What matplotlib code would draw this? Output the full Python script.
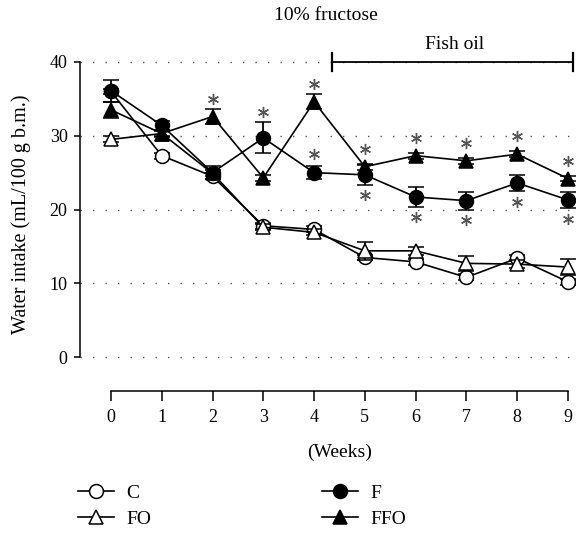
import matplotlib
matplotlib.use("Agg")
import matplotlib.pyplot as plt
import matplotlib.transforms as mtransforms
from matplotlib.lines import Line2D

plt.rcParams['font.family'] = ['Liberation Serif', 'DejaVu Serif']

weeks = [0, 1, 2, 3, 4, 5, 6, 7, 8, 9]
C = [36.0, 27.3, 24.5, 17.8, 17.3, 13.5, 12.9, 10.8, 13.4, 10.2]
C_err = [0.4, 0.4, 0.4, 0.4, 0.4, 0.4, 0.4, 0.4, 0.4, 0.4]
FO = [29.5, 30.3, 24.9, 17.6, 16.9, 14.4, 14.4, 12.7, 12.6, 12.2]
FO_err = [0.4, 0.4, 0.4, 0.4, 0.4, 1.2, 0.5, 1.0, 0.5, 1.1]
F = [36.1, 31.4, 25.0, 29.7, 25.0, 24.7, 21.7, 21.2, 23.6, 21.3]
F_err = [1.5, 0.6, 0.9, 2.1, 0.9, 1.4, 1.4, 1.2, 1.1, 1.1]
FFO = [33.5, 30.3, 32.6, 24.3, 34.6, 25.8, 27.3, 26.6, 27.5, 24.2]
FFO_err = [1.1, 0.5, 1.0, 0.4, 1.0, 0.4, 0.4, 0.4, 0.4, 0.4]

sig_above_FFO = [2, 4, 5, 6, 7, 8, 9]
sig_above_F = [3, 4]
sig_below_F = [5, 6, 7, 8, 9]

yticks = [0, 10, 20, 30, 40]

W, H = 576, 533
fig = plt.figure(figsize=(W / 100, H / 100), dpi=100)
ax = fig.add_axes([0.1389, 0.2664, 0.8559, 0.6312])
ax.set_xlim(-0.61, 9.1)
ax.set_ylim(-4.6, 41)

series = [
    (C, C_err, 'o', 'white', 3),
    (FO, FO_err, '^', 'white', 4),
    (FFO, FFO_err, '^', 'black', 5),
    (F, F_err, 'o', 'black', 6),
]
for vals, err, mk, fc, z in series:
    ax.errorbar(weeks, vals, yerr=err, color='black', lw=1.2,
                marker=mk, markersize=10, markerfacecolor=fc,
                markeredgecolor='black', markeredgewidth=1.1,
                capsize=6, capthick=1.8, elinewidth=1.3, zorder=z,
                clip_on=False)

# significance asterisks (6-arm asterisk marker), offset in pixels from the point
px_per_unit = ax.transData.transform((0, 1))[1] - ax.transData.transform((0, 0))[1]

def star(x, y, dy_px):
    tr = mtransforms.offset_copy(ax.transData, fig=fig, x=0, y=dy_px, units='dots')
    ax.plot([x], [y], marker=(6, 2, 0), markersize=8, markeredgewidth=1.0,
            color='#555555', transform=tr, zorder=10, clip_on=False, linestyle='none')

for w in sig_above_FFO:
    i = weeks.index(w)
    star(w, FFO[i], max(18, FFO_err[i] * px_per_unit + 10))
for w in sig_above_F:
    i = weeks.index(w)
    star(w, F[i], max(19, F_err[i] * px_per_unit + 10))
for w in sig_below_F:
    i = weeks.index(w)
    star(w, F[i], -max(19, F_err[i] * px_per_unit + 10))

# axes styling
for s in ['top', 'right']:
    ax.spines[s].set_visible(False)
ax.spines['left'].set_bounds(0, 40)
ax.spines['bottom'].set_bounds(0, 9)
ax.spines['left'].set_linewidth(1.1)
ax.spines['bottom'].set_linewidth(1.1)
ax.set_yticks(yticks)
ax.set_xticks(weeks)
ax.tick_params(axis='y', direction='out', length=4, width=1.1, labelsize=13, pad=5)
ax.tick_params(axis='x', direction='out', length=7, width=1.1, labelsize=13, pad=6)
for y in yticks:
    ax.axhline(y, color='#555555', lw=1.0, linestyle=(0, (1, 8)), zorder=1)

fig.text(340 / W, 1 - 452 / H, '(Weeks)', ha='center', va='center', fontsize=14)
fig.text(21 / W, 1 - 334 / H, 'Water intake (mL/100 g b.m.)', rotation=90,
         ha='center', va='bottom', fontsize=14.5)

# Fish oil bracket
bx0, bx1, by = 4.35, 9.1, 40
ax.plot([bx0, bx1], [by, by], color='black', lw=1.3, clip_on=False, zorder=7)
ax.plot([bx0, bx0], [by - 1.2, by + 1.2], color='black', lw=1.6, clip_on=False, zorder=7)
ax.plot([bx1, bx1], [by - 1.2, by + 1.2], color='black', lw=1.6, clip_on=False, zorder=7)
fig.text(455 / W, 1 - 45 / H, 'Fish oil', ha='center', va='center', fontsize=14)

fig.text(326 / W, 1 - 15 / H, '10% fructose', ha='center', va='center', fontsize=14)

# legend
def lh(mk, fc):
    return Line2D([], [], color='black', lw=1.2, marker=mk, markersize=10,
                  markerfacecolor=fc, markeredgecolor='black', markeredgewidth=1.1)

common = dict(loc='upper left', frameon=False, fontsize=14, handlelength=1.85,
              handletextpad=0.65, labelspacing=0.45, borderaxespad=0, borderpad=0)
fig.legend([lh('o', 'white'), lh('^', 'white')], ['C', 'FO'],
           bbox_to_anchor=(78 / W, 1 - 484 / H), **common)
fig.legend([lh('o', 'black'), lh('^', 'black')], ['F', 'FFO'],
           bbox_to_anchor=(322 / W, 1 - 484 / H), **common)

fig.savefig('out.png', dpi=100)
